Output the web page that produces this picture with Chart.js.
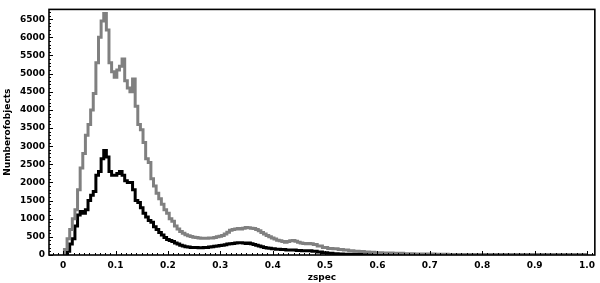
<!DOCTYPE html>
<html><head><meta charset="utf-8">
<script src="https://cdn.jsdelivr.net/npm/chart.js@4/dist/chart.umd.min.js"></script>
<style>html,body{margin:0;padding:0;background:#fff}#wrap{width:600px;height:283px;position:relative}</style>
</head><body><div id="wrap"><canvas id="c" width="600" height="283"></canvas></div>
<script>
// redshift bin positions and counts (all objects = grey, subsample = black)
const zGrey = [0,0.005,0.01,0.015,0.02,0.025,0.03,0.035,0.04,0.045,0.05,0.055,0.06,0.065,0.07,0.075,0.08,0.085,0.09,0.095,0.1,0.105,0.11,0.115,0.12,0.125,0.13,0.135,0.14,0.145,0.15,0.155,0.16,0.165,0.17,0.175,0.18,0.185,0.19,0.195,0.2,0.205,0.21,0.215,0.22,0.225,0.23,0.235,0.24,0.245,0.25,0.255,0.26,0.265,0.27,0.275,0.28,0.285,0.29,0.295,0.3,0.305,0.31,0.315,0.32,0.325,0.33,0.335,0.34,0.345,0.35,0.355,0.36,0.365,0.37,0.375,0.38,0.385,0.39,0.395,0.4,0.405,0.41,0.415,0.42,0.425,0.43,0.435,0.44,0.445,0.45,0.455,0.46,0.465,0.47,0.475,0.48,0.49,0.5,0.51,0.52,0.53,0.54,0.55,0.56,0.57,0.58,0.59,0.6,0.62,0.64,0.66,0.68,0.7,0.72,0.75,0.8,0.85,0.9,0.95,1.0];
const countsGrey = [0,150,450,700,1000,1250,1800,2400,2800,3300,3600,4000,4450,5300,6000,6450,6660,6200,5300,5050,4900,5100,5200,5400,4800,4600,4500,4850,4100,3600,3450,3100,2650,2550,2100,1900,1700,1550,1400,1250,1150,1000,930,800,720,650,600,560,530,510,490,480,470,460,460,460,470,470,480,500,520,540,580,630,680,700,720,730,720,740,760,750,740,730,700,670,620,580,540,500,470,440,410,390,370,350,370,390,400,380,350,330,320,310,320,310,290,250,210,180,170,150,140,120,105,95,85,75,65,55,45,35,30,25,20,15,10,8,6,5,3];
const zBlack = [0,0.005,0.01,0.015,0.02,0.025,0.03,0.035,0.04,0.045,0.05,0.055,0.06,0.065,0.07,0.075,0.08,0.085,0.09,0.095,0.1,0.105,0.11,0.115,0.12,0.125,0.13,0.135,0.14,0.145,0.15,0.155,0.16,0.165,0.17,0.175,0.18,0.185,0.19,0.195,0.2,0.205,0.21,0.215,0.22,0.225,0.23,0.235,0.24,0.245,0.25,0.255,0.26,0.265,0.27,0.275,0.28,0.285,0.29,0.295,0.3,0.305,0.31,0.315,0.32,0.325,0.33,0.335,0.34,0.345,0.35,0.355,0.36,0.365,0.37,0.375,0.38,0.385,0.39,0.395,0.4,0.41,0.42,0.43,0.44,0.45,0.46,0.47,0.48,0.49,0.5,0.51,0.52,0.53,0.54,0.55,0.57,0.6,0.65,0.7,0.8,1.0];
const countsBlack = [0,20,100,300,450,800,1100,1200,1150,1250,1500,1650,1750,2200,2300,2650,2880,2700,2300,2200,2200,2250,2300,2200,2050,2000,2000,1800,1500,1450,1300,1150,1050,950,900,780,700,620,550,480,430,400,370,330,300,270,250,230,220,210,210,205,200,200,205,210,220,230,240,250,260,270,285,300,310,320,330,340,340,330,320,330,310,290,270,250,230,210,195,185,175,160,150,140,135,125,115,118,105,85,65,48,36,28,22,18,12,8,5,3,2,1];
const xTickValues = [0,0.1,0.2,0.3,0.4,0.5,0.6,0.7,0.8,0.9,1.0];
const xTickLabels = ['0','0.1','0.2','0.3','0.4','0.5','0.6','0.7','0.8','0.9','1.0'];
const yTickValues = [0,500,1000,1500,2000,2500,3000,3500,4000,4500,5000,5500,6000,6500];
const yTickLabels = ['0','500','1000','1500','2000','2500','3000','3500','4000','4500','5000','5500','6000','6500'];

const toPts = (xs, ys) => xs.map((x, i) => ({x: x, y: ys[i]}));
const FONT = {family: '"DejaVu Sans", Verdana, sans-serif', size: 9, weight: 'bold'};

const frame = {
  id: 'frame',
  afterDraw(chart) {
    const {ctx, chartArea: a, scales} = chart;
    ctx.save();
    ctx.strokeStyle = '#000';
    ctx.lineWidth = 1;
    // minor ticks
    for (let v = -0.02; v <= 1.011; v += 0.01) {
      const px = Math.round(scales.x.getPixelForValue(v)) + 0.5;
      ctx.beginPath(); ctx.moveTo(px, a.bottom); ctx.lineTo(px, a.bottom - 2); ctx.stroke();
    }
    for (let v = 0; v <= 6700; v += 100) {
      const py = Math.round(scales.y.getPixelForValue(v)) + 0.5;
      ctx.beginPath(); ctx.moveTo(a.left, py); ctx.lineTo(a.left + 2, py); ctx.stroke();
    }
    // major ticks
    xTickValues.forEach(v => {
      const px = Math.round(scales.x.getPixelForValue(v)) + 0.5;
      ctx.beginPath(); ctx.moveTo(px, a.bottom); ctx.lineTo(px, a.bottom - 4); ctx.stroke();
    });
    yTickValues.forEach(v => {
      const py = Math.round(scales.y.getPixelForValue(v)) + 0.5;
      ctx.beginPath(); ctx.moveTo(a.left, py); ctx.lineTo(a.left + 4, py); ctx.stroke();
    });
    ctx.lineWidth = 1.6;
    ctx.strokeRect(a.left, a.top, a.right - a.left, a.bottom - a.top);
    ctx.restore();
  }
};

new Chart(document.getElementById('c'), {
  type: 'line',
  data: {
    datasets: [
      {data: toPts(zGrey, countsGrey), borderColor: '#808080', borderWidth: 3, pointRadius: 0, stepped: 'middle', fill: false},
      {data: toPts(zBlack, countsBlack), borderColor: '#000000', borderWidth: 3, pointRadius: 0, stepped: 'middle', fill: false}
    ]
  },
  options: {
    responsive: false,
    animation: false,
    plugins: {legend: {display: false}, tooltip: {enabled: false}},
    layout: {padding: {top: 4, right: 3, left: 0, bottom: 0}},
    scales: {
      x: {
        type: 'linear', min: -0.027, max: 1.015,
        afterBuildTicks: s => { s.ticks = xTickValues.map(v => ({value: v})); },
        afterFit: s => { s.height = 28; },
        grid: {display: false, drawTicks: false},
        border: {display: false},
        ticks: {color: '#000', font: FONT, padding: 5, maxRotation: 0, autoSkip: false,
          callback: (v, i) => xTickLabels[i]},
        title: {display: true, text: 'zspec', color: '#000', font: FONT, padding: {top: 0, bottom: 0}}
      },
      y: {
        type: 'linear', min: 0, max: 6770,
        afterBuildTicks: s => { s.ticks = yTickValues.map(v => ({value: v})); },
        afterFit: s => { s.width = 49; },
        grid: {display: false, drawTicks: false},
        border: {display: false},
        ticks: {color: '#000', font: FONT, padding: 4, autoSkip: false,
          callback: (v, i) => yTickLabels[i]},
        title: {display: true, text: 'Numberofobjects', color: '#000', font: FONT, padding: {top: 2, bottom: 0}}
      }
    }
  },
  plugins: [frame]
});
</script></body></html>
